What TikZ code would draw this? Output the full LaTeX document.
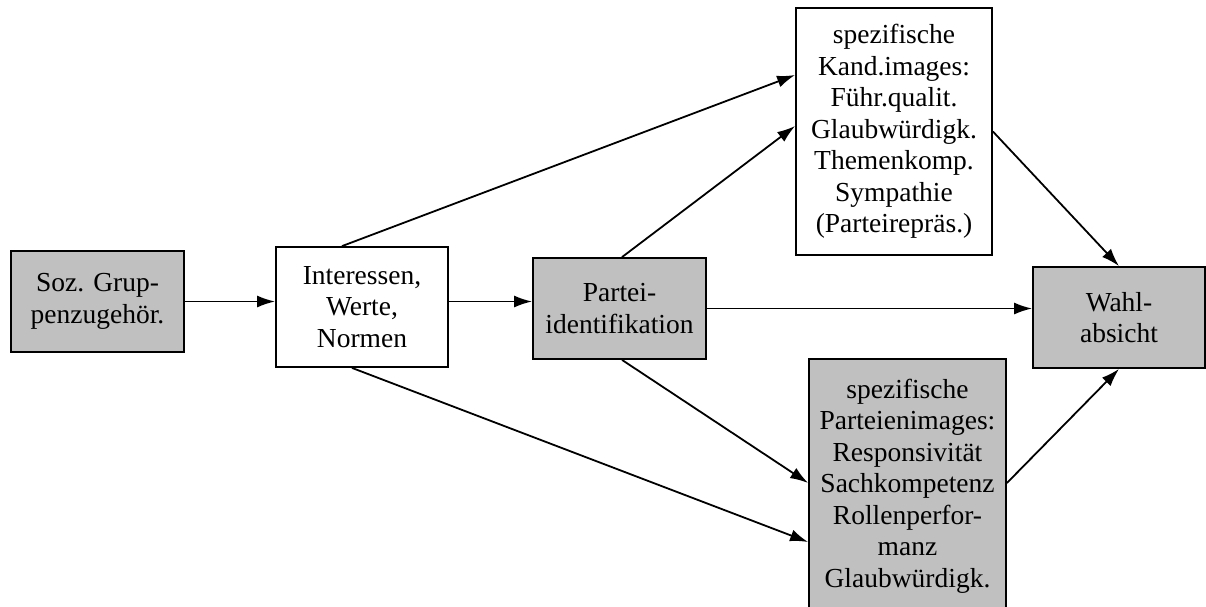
\documentclass[tikz,border=0pt]{standalone}
\usepackage{fontspec}
\setmainfont{Liberation Serif}
\usetikzlibrary{arrows.meta}
\definecolor{boxgray}{HTML}{C0C0C0}
\begin{document}
\begin{tikzpicture}[x=1pt,y=-1pt,
  box/.style={draw, line width=1.8pt, inner sep=0pt, align=center,
    font=\fontsize{27.5}{31.5}\selectfont},
  graybox/.style={box, fill=boxgray},
  whitebox/.style={box, fill=white},
  conn/.style={line width=1.8pt, -{Latex[length=18pt,width=12pt]}}]
\useasboundingbox (0,0) rectangle (1206,606);
\clip (0,0) rectangle (1206,606);
\node[graybox, minimum width=173pt, minimum height=101pt] (soz) at (97.5,301.5) {Soz. Grup-\\penzugehör.};
\node[whitebox, minimum width=172pt, minimum height=120pt] (int) at (362,307) {Interessen,\\Werte,\\Normen};
\node[graybox, minimum width=173pt, minimum height=101pt] (par) at (619.5,308.5) {Partei-\\identifikation};
\node[whitebox, minimum width=196pt, minimum height=247pt] (kand) at (894,131.5) {spezifische\\Kand.images:\\Führ.qualit.\\Glaubwürdigk.\\Themenkomp.\\Sympathie\\(Parteirepräs.)};
\node[graybox, minimum width=172pt, minimum height=101pt] (wahl) at (1119,317.5) {Wahl-\\absicht};
\node[graybox, minimum width=197pt, minimum height=254pt] (pimg) at (907.5,486) {spezifische\\Parteienimages:\\Responsivität\\Sachkompetenz\\Rollenperfor-\\manz\\Glaubwürdigk.};
\draw[conn] (soz.east) -- (soz.east -| int.west);
\draw[conn] (int.east |- soz.east) -- (par.west |- soz.east);
\draw[conn] ([xshift=-20pt]int.north) -- ([yshift=56.5pt]kand.west);
\draw[conn] ([xshift=2.5pt]par.north) -- ([yshift=5.5pt]kand.west);
\draw[conn] (par.east) -- (par.east -| wahl.west);
\draw[conn] (kand.east) -- (wahl.north);
\draw[conn] ([xshift=2.5pt]par.south) -- ([yshift=3pt]pimg.west);
\draw[conn] ([xshift=-10pt]int.south) -- ([yshift=-56pt]pimg.west);
\draw[conn] ([yshift=3pt]pimg.east) -- (wahl.south);
\end{tikzpicture}
\end{document}
